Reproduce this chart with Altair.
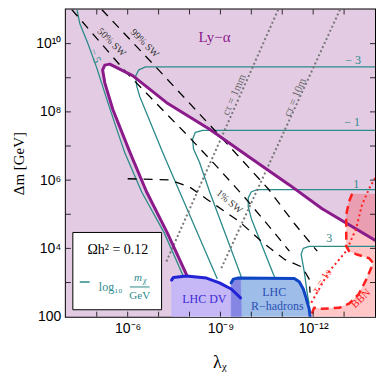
import altair as alt
import pandas as pd

W, H = 310, 308

# ---------- values: log10(lambda_chi), log10(Delta m / GeV) ----------
# Lyman-alpha boundary (thick purple)
purple_lam = [-7.94, -7.29, -6.61, -6.07, -5.52, -5.26, -5.19, -5.26, -5.42, -6.16, -7.26, -8.65, -9.94, -11.23, -12.29, -14.0]
purple_dm = [3.16, 4.44, 5.66, 6.82, 8.07, 8.85, 9.23, 9.37, 9.40, 9.06, 8.27, 7.49, 6.67, 5.86, 5.16, 4.24]

# Omega h^2 = 0.12 contours, labelled by log10(m_chi/GeV)
t_m5_lam = [-4.36, -4.45, -4.71, -5.00, -5.36, -5.68, -5.90, -6.45, -7.19, -7.81]
t_m5_dm = [11.0, 10.59, 10.01, 9.29, 8.27, 7.40, 6.82, 5.66, 4.44, 3.16]
t_m3_lam = [-14.0, -6.58, -6.36, -6.26, -6.29, -6.39, -7.13, -7.68, -8.90]
t_m3_dm = [9.32, 9.32, 9.23, 9.06, 8.76, 8.45, 6.82, 5.66, 3.10]
t_m1_lam = [-14.0, -8.42, -8.19, -8.10, -8.13, -8.32, -8.65, -9.61, -9.71]
t_m1_dm = [7.46, 7.46, 7.40, 7.20, 6.91, 6.53, 5.66, 3.33, 3.07]
t_p1_lam = [-14.0, -10.19, -10.0, -9.90, -9.90, -10.0, -10.71, -10.81]
t_p1_dm = [5.72, 5.72, 5.66, 5.48, 5.22, 4.87, 3.25, 3.04]
t_p3_lam = [-14.0, -11.87, -11.68, -11.61, -11.71, -11.81, -11.87]
t_p3_dm = [4.06, 4.06, 4.00, 3.83, 3.33, 2.67, 2.38]

# decay-length lines (grey dotted)
ct1mm_lam = [-10.87, -7.23]
ct1mm_dm = [11.0, 3.57]
ct10m_lam = [-12.87, -9.03]
ct10m_dm = [11.0, 3.42]

# superWIMP fraction lines (black dashed)
sw99_lam = [-5.16, -7.03, -9.03, -10.55, -11.39, -12.13]
sw99_dm = [11.0, 9.20, 7.25, 5.74, 4.73, 3.92]
sw50_lam = [-4.19, -5.97, -8.0, -8.81, -9.77, -10.58, -11.23]
sw50_dm = [11.0, 9.14, 7.25, 6.47, 5.51, 4.64, 3.92]
sw1_lam = [-6.0, -7.35, -8.0, -8.55, -9.61, -10.32, -11.07, -11.65, -11.87, -11.90]
sw1_dm = [6.04, 6.01, 5.80, 5.45, 4.79, 4.21, 3.68, 3.45, 3.10, 2.70]

# LHC displaced vertices
dv_lam = [-7.42, -7.42, -7.48, -7.90, -8.55, -8.97, -9.35, -9.65, -9.71]
dv_dm = [2.0, 3.07, 3.15, 3.19, 3.13, 2.99, 2.81, 2.55, 2.0]
# LHC R-hadrons
rh_lam = [-9.35, -9.35, -9.42, -9.55, -11.39, -11.55, -11.68, -11.77, -11.87, -11.90]
rh_dm = [2.0, 2.99, 3.10, 3.13, 3.12, 3.02, 2.81, 2.55, 2.23, 2.0]
# overlap of the two LHC regions
ov_lam = [-9.35, -9.35, -9.42, -9.55, -9.65, -9.68]
ov_dm = [2.0, 2.99, 3.10, 3.13, 3.13, 2.0]

# BBN boundary (red dashed), from its top down round the allowed pocket to the bottom axis
bbn_lam = [-13.26, -13.16, -13.07, -13.07, -13.07, -13.16, -13.39, -13.81, -13.94, -13.74, -13.48, -13.16, -12.84, -12.29, -12.03, -11.97, -11.94]
bbn_dm = [5.60, 5.37, 4.99, 4.58, 4.06, 3.92, 3.83, 3.71, 3.57, 3.13, 2.67, 2.38, 2.26, 2.23, 2.26, 2.12, 2.0]
# tau = 1 s (red dotted)
tau_lam = [-11.94, -12.52, -13.07, -13.39, -13.58, -13.81, -14.0]
tau_dm = [2.41, 3.33, 3.92, 4.58, 5.28, 5.75, 6.06]

# axis tick positions (decades)
y_label_vals = [1e2, 1e4, 1e6, 1e8, 1e10]
x_label_vals = [1e-6, 1e-9, 1e-12]
y_tick_exp = [3, 4, 5, 6, 7, 8, 9, 10]
x_tick_exp = [-5, -6, -7, -8, -9, -10, -11, -12, -13]

PINK = "#e3cce3"
PURPLE = "#8b1a8b"
TEAL = "#2b8a8a"
RED = "#ff1f1f"
SERIF = "Liberation Serif"


def frame(lam, dm):
    return pd.DataFrame({"lam": [10.0 ** v for v in lam],
                         "dm": [10.0 ** v for v in dm],
                         "i": list(range(len(lam)))})


xscale = alt.Scale(type="log", domain=[1e-14, 1e-4], reverse=True, nice=False)
yscale = alt.Scale(type="log", domain=[1e2, 1e11], nice=False)

xaxis = alt.Axis(values=x_label_vals,
                 labelExpr="['','','','','','','10⁻⁶','','','10⁻⁹','','','10⁻¹²'][-round(log(datum.value)/LN10)]",
                 title="λᵪ", titleFont=SERIF, titleFontSize=18, titleFontWeight="normal",
                 titleX=154, titleY=46, titleBaseline="middle", titleColor="black",
                 labelFont="Liberation Sans", labelFontSize=14, labelPadding=5, labelColor="black",
                 labelOverlap=False, labelFlush=False, ticks=False, domain=False, grid=False)
yaxis = alt.Axis(values=y_label_vals,
                 labelExpr="['','','100','','10⁴','','10⁶','','10⁸','','10¹⁰'][round(log(datum.value)/LN10)]",
                 title="Δm [GeV]", titleFont=SERIF, titleFontSize=15, titleFontWeight="normal",
                 titleAngle=270, titleX=-47, titleY=154, titleAlign="center", titleBaseline="middle",
                 titleColor="black",
                 labelFont="Liberation Sans", labelFontSize=14, labelPadding=5, labelColor="black",
                 labelOverlap=False, labelFlush=False, ticks=False, domain=False, grid=False,
                 minExtent=58, maxExtent=58)


def X():
    return alt.X("lam:Q", scale=xscale, axis=xaxis)


def Y():
    return alt.Y("dm:Q", scale=yscale, axis=yaxis)


def poly(lam, dm, color, opacity=1.0):
    return alt.Chart(frame(lam, dm)).mark_line(
        fill=color, stroke=color, strokeWidth=0.5, opacity=opacity, clip=True
    ).encode(x=X(), y=Y(), order="i:Q")


def line(lam, dm, color, width, dash=None, cap="butt"):
    kw = dict(color=color, strokeWidth=width, clip=True, strokeCap=cap, strokeJoin="round")
    if dash:
        kw["strokeDash"] = dash
    return alt.Chart(frame(lam, dm)).mark_line(**kw).encode(x=X(), y=Y(), order="i:Q")


def text(lam, dm, s, color, size, angle=0, font=SERIF, style="normal"):
    d = pd.DataFrame({"lam": [10.0 ** lam], "dm": [10.0 ** dm], "t": [s]})
    return alt.Chart(d).mark_text(color=color, fontSize=size, angle=angle, font=font,
                                  fontStyle=style, align="center", baseline="middle").encode(
        x=X(), y=Y(), text="t:N")


bg = alt.Chart(pd.DataFrame({"a": [0]})).mark_rect(color=PINK).encode(
    x=alt.value(0), x2=alt.value(W), y=alt.value(0), y2=alt.value(H))

white = poly(purple_lam + [-14.0, -7.94], purple_dm + [2.0, 2.0], "#ffffff")
bbn = poly(bbn_lam + [-14.0, -14.0], bbn_dm + [2.0, 5.60], "#ff0000", 0.22)
dv = poly(dv_lam, dv_dm, "#c6b7f6")
rh = poly(rh_lam, rh_dm, "#9ebde8")
ov = poly(ov_lam, ov_dm, "#8585e4")

teal_layers = [line(a, b, TEAL, 1.3) for a, b in
               [(t_m5_lam, t_m5_dm), (t_m3_lam, t_m3_dm), (t_m1_lam, t_m1_dm),
                (t_p1_lam, t_p1_dm), (t_p3_lam, t_p3_dm)]]
grey = [line(ct1mm_lam, ct1mm_dm, "#777777", 2.0, [2, 2.5]),
        line(ct10m_lam, ct10m_dm, "#777777", 2.0, [2, 2.5])]
sw = [line(sw99_lam, sw99_dm, "black", 1.3, [9, 7]),
      line(sw50_lam, sw50_dm, "black", 1.3, [9, 7]),
      line(sw1_lam, sw1_dm, "black", 1.3, [9, 7])]
purple = line(purple_lam, purple_dm, PURPLE, 3.0, cap="round")
bbn_edge = line(bbn_lam, bbn_dm, RED, 2.5, [8, 5])
tau = line(tau_lam, tau_dm, RED, 2.0, [2, 3])
dv_edge = line(dv_lam[1:-1], dv_dm[1:-1], "#2323d6", 3.0, cap="round")
rh_edge = line(rh_lam[1:], rh_dm[1:], "#0d45c4", 3.0, cap="round")

labels = [
    text(-8.81, 10.19, "Ly−α", PURPLE, 15),
    text(-5.48, 10.04, "50% SW", "#333333", 10, 45),
    text(-6.55, 10.01, "99% SW", "#333333", 10, 45),
    text(-9.29, 5.37, "1% SW", "#333333", 10, 40),
    text(-9.45, 8.50, "cτ = 1mm", "#666666", 11, 294),
    text(-11.42, 8.42, "cτ = 10m", "#666666", 11, 294),
    text(-4.94, 9.64, "− 5", TEAL, 11, 70),
    text(-13.29, 9.52, "− 3", TEAL, 12),
    text(-13.26, 7.69, "− 1", TEAL, 12),
    text(-13.39, 5.89, "1", TEAL, 12),
    text(-12.52, 4.29, "3", TEAL, 12),
    text(-8.48, 2.52, "LHC DV", "#3a2ad8", 12),
    text(-10.74, 2.71, "LHC", "#2a4fb5", 12),
    text(-10.84, 2.32, "R−hadrons", "#2a4fb5", 12),
    text(-12.29, 3.04, "τ = 1s", RED, 11, 304),
    text(-13.55, 2.52, "BBN", RED, 11, 317),
]

# legend box
box = alt.Chart(pd.DataFrame({"lam": [10 ** -4.226], "lam2": [10 ** -7.097],
                              "dm": [10 ** 4.467], "dm2": [10 ** 2.202]})).mark_rect(
    fill="white", stroke="black", strokeWidth=1).encode(
    x=X(), x2="lam2:Q", y=Y(), y2="dm2:Q")
legend = [
    box,
    text(-5.68, 3.94, "Ωh² = 0.12", "black", 14),
    line([-4.45, -4.77], [3.015, 3.015], TEAL, 1.5),
    text(-5.45, 2.87, "log₁₀", TEAL, 12),
    text(-6.33, 3.12, "m", TEAL, 11, 0, SERIF, "italic"),
    text(-6.55, 3.05, "χ", TEAL, 8, 0, SERIF, "italic"),
    line([-6.07, -6.71], [2.87, 2.87], TEAL, 1.0),
    text(-6.39, 2.61, "GeV", TEAL, 11),
]

yt = pd.DataFrame({"dm": [10.0 ** k for k in y_tick_exp]})
xt = pd.DataFrame({"lam": [10.0 ** k for k in x_tick_exp]})
ticks = [
    alt.Chart(yt).mark_rule(color="black", strokeWidth=0.8).encode(y=Y(), x=alt.value(0), x2=alt.value(5)),
    alt.Chart(yt).mark_rule(color="black", strokeWidth=0.8).encode(y=Y(), x=alt.value(W - 5), x2=alt.value(W)),
    alt.Chart(xt).mark_rule(color="black", strokeWidth=0.8).encode(x=X(), y=alt.value(H - 5), y2=alt.value(H)),
    alt.Chart(xt).mark_rule(color="black", strokeWidth=0.8).encode(x=X(), y=alt.value(0), y2=alt.value(5)),
]

chart = alt.layer(
    bg, white, bbn, *teal_layers, *grey, *sw, purple, dv, rh, ov,
    bbn_edge, tau, dv_edge, rh_edge, *labels, *legend, *ticks
).properties(
    width=W, height=H, padding={"left": 0, "right": 0, "top": 0, "bottom": 0}
).configure_view(stroke="black", strokeWidth=2)

chart.save("out.html", embed_options={"renderer": "svg", "actions": False})
